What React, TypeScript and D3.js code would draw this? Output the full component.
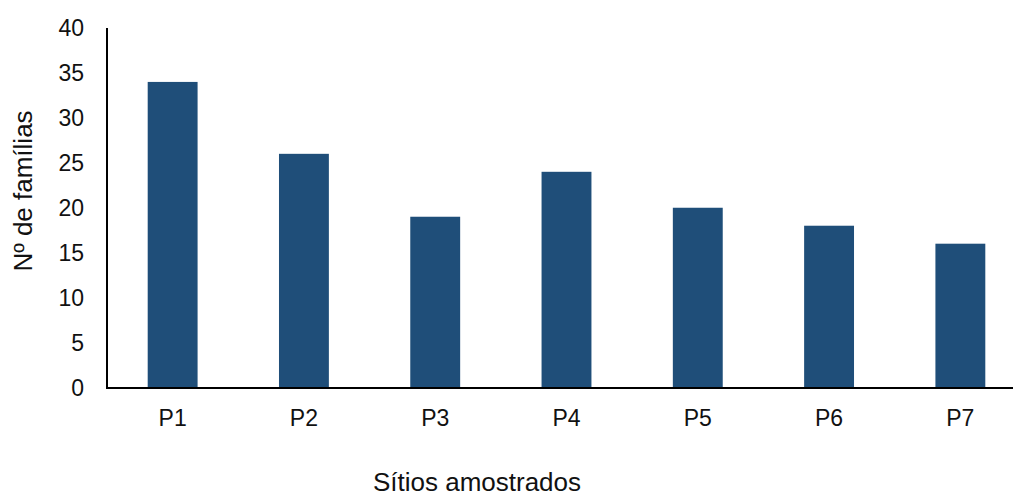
import React from "react";
import * as d3 from "d3";

const categories = ["P1", "P2", "P3", "P4", "P5", "P6", "P7"];
const values = [34, 26, 19, 24, 20, 18, 16];
const yTicks = [0, 5, 10, 15, 20, 25, 30, 35, 40];
const xTitle = "Sítios amostrados";
const yTitle = "Nº de famílias";

const W = 1013;
const H = 498;
const FONT = "Liberation Sans, Arial, Helvetica, sans-serif";

export default function App() {
  const x = d3
    .scaleBand<string>()
    .domain(categories)
    .range([107, 1026])
    .paddingInner(0.62)
    .paddingOuter(0.31);
  const y = d3.scaleLinear().domain([0, 40]).range([387.5, 28]);

  return (
    <svg
      width={W}
      height={H}
      style={{ position: "absolute", left: 0, top: 0, background: "#fff" }}
      fontFamily={FONT}
    >
      <rect width={W} height={H} fill="#fff" />
      {categories.map((c, i) => (
        <rect
          key={c}
          x={x(c)}
          y={y(values[i])}
          width={x.bandwidth()}
          height={y(0) - y(values[i])}
          fill="#1f4e79"
        />
      ))}
      <line x1={107} x2={107} y1={y(40)} y2={y(0) + 1} stroke="#000" strokeWidth={2} />
      <line x1={106} x2={W} y1={y(0) + 0.5} y2={y(0) + 0.5} stroke="#000" strokeWidth={2} />
      {yTicks.map((t) => (
        <text
          key={t}
          x={84}
          y={y(t)}
          textAnchor="end"
          dominantBaseline="central"
          fontSize={23}
          fill="#111"
        >
          {t}
        </text>
      ))}
      {categories.map((c) => (
        <text
          key={c}
          x={(x(c) as number) + x.bandwidth() / 2}
          y={426}
          textAnchor="middle"
          fontSize={23}
          fill="#111"
        >
          {c}
        </text>
      ))}
      <text x={477} y={491} textAnchor="middle" fontSize={26} fill="#111">
        {xTitle}
      </text>
      <text
        transform={`translate(32,191) rotate(-90)`}
        textAnchor="middle"
        fontSize={26}
        fill="#111"
      >
        {yTitle}
      </text>
    </svg>
  );
}
